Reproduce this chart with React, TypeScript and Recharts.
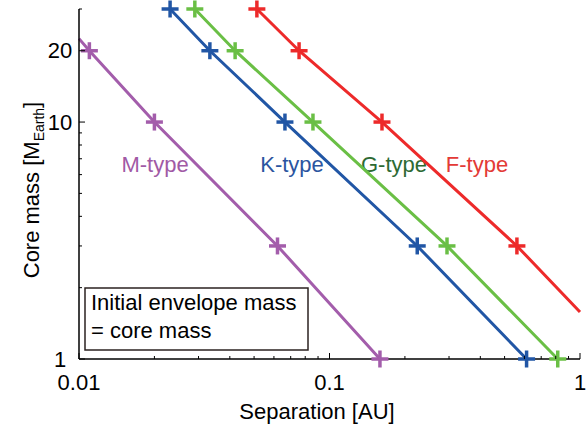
import { Line, LineChart, XAxis, YAxis } from "recharts";

// separation [AU] vs core mass [M_Earth]
const mSep = [0.01, 0.011, 0.02, 0.062, 0.159];
const mMass = [22.5, 20, 10, 3, 1];
const mMark = [false, true, true, true, true];

const kSep = [0.0231, 0.0333, 0.0664, 0.224, 0.612];
const kMass = [30, 20, 10, 3, 1];
const kMark = [true, true, true, true, true];

const gSep = [0.029, 0.042, 0.0859, 0.2945, 0.815];
const gMass = [30, 20, 10, 3, 1];
const gMark = [true, true, true, true, true];

const fSep = [0.0513, 0.0756, 0.162, 0.56, 1];
const fMass = [30, 20, 10, 3, 1.58];
const fMark = [true, true, true, true, false];

const xTicks = [0.01, 0.02, 0.03, 0.04, 0.05, 0.06, 0.07, 0.08, 0.09, 0.1, 0.2, 0.3, 0.4, 0.5, 0.6, 0.7, 0.8, 0.9, 1];
const xMajor = [0.01, 0.1, 1];
const yTicks = [1, 2, 3, 4, 5, 6, 7, 8, 9, 10, 20, 30];
const yMajor = [1, 10, 20];

const FONT = "'Liberation Sans', Arial, Helvetica, sans-serif";
const FS = 22;

const toRows = (xs: number[], ys: number[], marks: boolean[]) =>
  xs.map((x, i) => ({ x, y: ys[i], mark: marks[i] }));

const series = [
  { name: "M", color: "#a35dab", data: toRows(mSep, mMass, mMark) },
  { name: "K", color: "#2156a5", data: toRows(kSep, kMass, kMark) },
  { name: "G", color: "#6abf45", data: toRows(gSep, gMass, gMark) },
  { name: "F", color: "#ed2a2a", data: toRows(fSep, fMass, fMark) },
];

function plusDot(color: string) {
  return (p: any) => {
    const { cx, cy, payload, index } = p;
    if (!payload?.mark || cx == null || cy == null) return <g key={index} />;
    return (
      <g key={index}>
        <line x1={cx - 8.5} x2={cx + 8.5} y1={cy} y2={cy} stroke={color} strokeWidth={3.5} />
        <line x1={cx} x2={cx} y1={cy - 8.5} y2={cy + 8.5} stroke={color} strokeWidth={3.5} />
      </g>
    );
  };
}

const isMajor = (list: number[], v: number) => list.some((m) => Math.abs(m - v) < 1e-9);

function XTickBottom({ x, y, payload }: any) {
  const major = isMajor(xMajor, payload.value);
  return (
    <g>
      <line x1={x} x2={x} y1={y} y2={y - (major ? 6 : 3)} stroke="#000" />
      {major && (
        <text x={x} y={y + 23} dy="0.35em" textAnchor="middle" fontSize={FS} fill="#000" fontFamily={FONT}>
          {String(payload.value)}
        </text>
      )}
    </g>
  );
}

function XTickTop({ x, y, payload }: any) {
  const major = isMajor(xMajor, payload.value);
  return <line x1={x} x2={x} y1={y} y2={y + (major ? 6 : 3)} stroke="#000" />;
}

function YTickLeft({ x, y, payload }: any) {
  const major = isMajor(yMajor, payload.value);
  return (
    <g>
      <line x1={x} x2={x + (major ? 6 : 3)} y1={y} y2={y} stroke="#000" />
      {major && (
        <text x={x - 19} y={y} dy="0.35em" textAnchor="middle" fontSize={FS} fill="#000" fontFamily={FONT}>
          {String(payload.value)}
        </text>
      )}
    </g>
  );
}

function YTickRight({ x, y, payload }: any) {
  const major = isMajor(yMajor, payload.value);
  return <line x1={x} x2={x - (major ? 6 : 3)} y1={y} y2={y} stroke="#000" />;
}

export default function App() {
  return (
    <div style={{ position: "absolute", left: 0, top: 0, fontFamily: FONT }}>
      <LineChart width={586} height={429} margin={{ top: 9, right: 6, bottom: 0, left: 0 }}>
        <XAxis
          dataKey="x"
          type="number"
          scale="log"
          domain={[0.01, 1]}
          ticks={xTicks}
          interval={0}
          height={70}
          tickSize={0}
          tickMargin={0}
          tickLine={false}
          tick={<XTickBottom />}
          axisLine={{ stroke: "#000", strokeWidth: 1.5 }}
        />
        <XAxis
          xAxisId="top"
          orientation="top"
          type="number"
          scale="log"
          domain={[0.01, 1]}
          allowDataOverflow
          ticks={xTicks}
          interval={0}
          height={0}
          tickSize={0}
          tickMargin={0}
          tickLine={false}
          tick={<XTickTop />}
          axisLine={{ stroke: "#000", strokeWidth: 1.5 }}
        />
        <YAxis
          type="number"
          scale="log"
          domain={[1, 30]}
          ticks={yTicks}
          interval={0}
          width={79}
          tickSize={0}
          tickMargin={0}
          tickLine={false}
          tick={<YTickLeft />}
          axisLine={{ stroke: "#000", strokeWidth: 1.5 }}
        />
        <YAxis
          yAxisId="right"
          orientation="right"
          type="number"
          scale="log"
          domain={[1, 30]}
          allowDataOverflow
          ticks={yTicks}
          interval={0}
          width={0}
          tickSize={0}
          tickMargin={0}
          tickLine={false}
          tick={<YTickRight />}
          axisLine={{ stroke: "#000", strokeWidth: 1.5 }}
        />
        {series.map((s) => (
          <Line
            key={s.name}
            data={s.data}
            dataKey="y"
            type="linear"
            stroke={s.color}
            strokeWidth={3}
            dot={plusDot(s.color)}
            activeDot={false}
            isAnimationActive={false}
          />
        ))}

        <text x={155} y={172} textAnchor="middle" fontSize={FS} fill="#a15aa5" fontFamily={FONT}>M-type</text>
        <text x={292} y={172} textAnchor="middle" fontSize={FS} fill="#2b55a0" fontFamily={FONT}>K-type</text>
        <text x={394} y={172} textAnchor="middle" fontSize={FS} fill="#2d6a33" fontFamily={FONT}>G-type</text>
        <text x={477} y={172} textAnchor="middle" fontSize={FS} fill="#e33a36" fontFamily={FONT}>F-type</text>

        <rect x={85} y={288} width={223} height={62} fill="#fff" stroke="#2b2220" strokeWidth={1.5} />
        <text x={91} y={310} fontSize={FS} fill="#000" fontFamily={FONT}>Initial envelope mass</text>
        <text x={91} y={338} fontSize={FS} fill="#000" fontFamily={FONT}>= core mass</text>

        <text x={317} y={419} textAnchor="middle" fontSize={FS} fill="#000" fontFamily={FONT}>Separation [AU]</text>
        <text transform="translate(39,190) rotate(-90)" textAnchor="middle" fontSize={FS} fill="#000" fontFamily={FONT}>
          Core mass [M<tspan fontSize={14} dy={5}>Earth</tspan><tspan dy={-5}>]</tspan>
        </text>
      </LineChart>
    </div>
  );
}
